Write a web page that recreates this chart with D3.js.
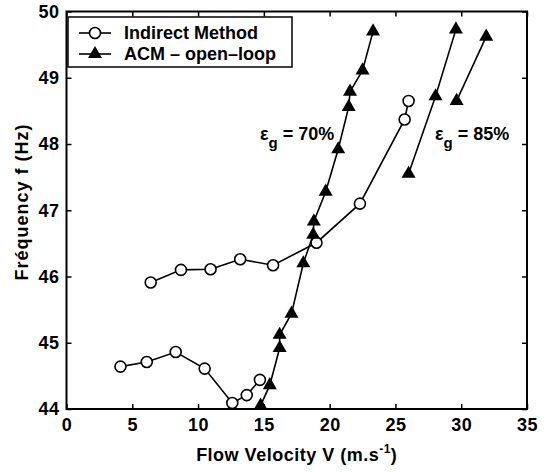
<!DOCTYPE html>
<html>
<head>
<meta charset="utf-8">
<script src="https://cdn.jsdelivr.net/npm/d3@7"></script>
<style>
  body { margin: 0; background: #fff; }
  text { font-family: "Liberation Sans", Arial, sans-serif; font-weight: bold; fill: #000; }
</style>
</head>
<body>
<svg id="chart" width="546" height="472"></svg>
<script>
// values
const indirectLowV = [4.1, 6.1, 8.3, 10.5, 12.6, 13.7, 14.7];
const indirectLowF = [44.64, 44.71, 44.86, 44.61, 44.09, 44.21, 44.44];
const indirectHighV = [6.4, 8.7, 10.95, 13.2, 15.7, 19.0, 22.3, 25.7, 26.0];
const indirectHighF = [45.91, 46.10, 46.11, 46.26, 46.17, 46.51, 47.10, 48.37, 48.65];
const acm70V = [14.75, 15.45, 16.2, 16.2, 17.1, 18.0, 18.75, 18.8, 19.7, 20.65, 21.45, 21.55, 22.5, 23.3];
const acm70F = [44.05, 44.36, 44.92, 45.12, 45.44, 46.2, 46.63, 46.83, 47.28, 47.92, 48.56, 48.79, 49.11, 49.70];
const acm85aV = [26.0, 28.05, 29.6];
const acm85aF = [47.55, 48.72, 49.73];
const acm85bV = [29.65, 31.9];
const acm85bF = [48.65, 49.62];

const xTicks = [0, 5, 10, 15, 20, 25, 30, 35];
const yTicks = [44, 45, 46, 47, 48, 49, 50];
const legendLabels = ["Indirect Method", "ACM \u2013 open\u2013loop"];

const svg = d3.select("#chart");
const pLeft = 66.5, pRight = 527, pTop = 11.5, pBottom = 409;

const x = d3.scaleLinear().domain([0, 35]).range([pLeft, pRight]);
const y = d3.scaleLinear().domain([44, 50]).range([pBottom, pTop]);

function zip(vs, fs) { return vs.map(function (v, i) { return [v, fs[i]]; }); }

// axes box with inward ticks on all four sides
const tickLen = 5;
svg.append("g").attr("transform", "translate(0," + pBottom + ")")
  .call(d3.axisBottom(x).tickValues(xTicks).tickFormat(d3.format("d")).tickSizeInner(-tickLen).tickSizeOuter(0).tickPadding(9))
  .call(g => g.select(".domain").remove());
svg.append("g").attr("transform", "translate(" + pLeft + ",0)")
  .call(d3.axisLeft(y).tickValues(yTicks).tickFormat(d3.format("d")).tickSizeInner(-tickLen).tickSizeOuter(0).tickPadding(7))
  .call(g => g.select(".domain").remove());
svg.append("g").attr("transform", "translate(0," + pTop + ")")
  .call(d3.axisTop(x).tickValues(xTicks).tickSizeInner(-tickLen).tickSizeOuter(0).tickFormat(""))
  .call(g => g.select(".domain").remove());
svg.append("g").attr("transform", "translate(" + pRight + ",0)")
  .call(d3.axisRight(y).tickValues(yTicks).tickSizeInner(-tickLen).tickSizeOuter(0).tickFormat(""))
  .call(g => g.select(".domain").remove());

svg.selectAll(".tick line").attr("stroke", "#000").attr("stroke-width", 1.5);
svg.selectAll(".tick text")
  .style("font-size", "18px")
  .style("font-family", "Liberation Sans, Arial, sans-serif")
  .style("font-weight", "bold")
  .style("letter-spacing", "0.5px");

svg.append("rect")
  .attr("x", pLeft).attr("y", pTop)
  .attr("width", pRight - pLeft).attr("height", pBottom - pTop)
  .attr("fill", "none").attr("stroke", "#000").attr("stroke-width", 2);

const line = d3.line().x(d => x(d[0])).y(d => y(d[1]));
const tri = d3.symbol().type(d3.symbolTriangle).size(85);

function drawSeries(data, marker) {
  svg.append("path").datum(data)
    .attr("d", line).attr("fill", "none").attr("stroke", "#000").attr("stroke-width", 1.6);
  if (marker === "circle") {
    svg.append("g").selectAll("circle").data(data).join("circle")
      .attr("cx", d => x(d[0])).attr("cy", d => y(d[1])).attr("r", 5.5)
      .attr("fill", "#fff").attr("stroke", "#000").attr("stroke-width", 1.6);
  } else {
    svg.append("g").selectAll("path").data(data).join("path")
      .attr("d", tri)
      .attr("transform", d => "translate(" + x(d[0]) + "," + y(d[1]) + ")")
      .attr("fill", "#000");
  }
}

drawSeries(zip(indirectLowV, indirectLowF), "circle");
drawSeries(zip(indirectHighV, indirectHighF), "circle");
drawSeries(zip(acm70V, acm70F), "triangle");
drawSeries(zip(acm85aV, acm85aF), "triangle");
drawSeries(zip(acm85bV, acm85bF), "triangle");

// epsilon annotations
function epsLabel(px, py, pct) {
  const t = svg.append("text").attr("x", px).attr("y", py).style("font-size", "18px");
  t.append("tspan").text("\u03b5");
  t.append("tspan").attr("dy", 8).style("font-size", "15px").text("g");
  t.append("tspan").attr("dy", -8).text(" = " + pct);
}
epsLabel(260, 140, "70%");
epsLabel(435, 140, "85%");

// axis titles
const xt = svg.append("text")
  .attr("x", (pLeft + pRight) / 2).attr("y", 461)
  .attr("text-anchor", "middle").style("font-size", "18px").style("letter-spacing", "0.5px");
xt.append("tspan").text("Flow Velocity V (m.s");
xt.append("tspan").attr("dy", -8).style("font-size", "12px").text("-1");
xt.append("tspan").attr("dy", 8).text(")");

svg.append("text")
  .attr("transform", "translate(28,202) rotate(-90)")
  .attr("text-anchor", "middle").style("font-size", "18px").style("letter-spacing", "1px")
  .text("Fréquency f (Hz)");

// legend
const lg = svg.append("g");
lg.append("rect").attr("x", 68).attr("y", 17).attr("width", 224).attr("height", 50)
  .attr("fill", "#fff").attr("stroke", "#000").attr("stroke-width", 1.5);
legendLabels.forEach(function (lab, i) {
  const ly = 33 + i * 21;
  lg.append("line").attr("x1", 79).attr("x2", 111).attr("y1", ly).attr("y2", ly)
    .attr("stroke", "#000").attr("stroke-width", 1.6);
  if (i === 0) {
    lg.append("circle").attr("cx", 95).attr("cy", ly).attr("r", 5.5)
      .attr("fill", "#fff").attr("stroke", "#000").attr("stroke-width", 1.6);
  } else {
    lg.append("path").attr("d", tri).attr("transform", "translate(95," + ly + ")").attr("fill", "#000");
  }
  lg.append("text").attr("x", 124).attr("y", ly + 6).style("font-size", "18px").text(lab);
});
</script>
</body>
</html>
